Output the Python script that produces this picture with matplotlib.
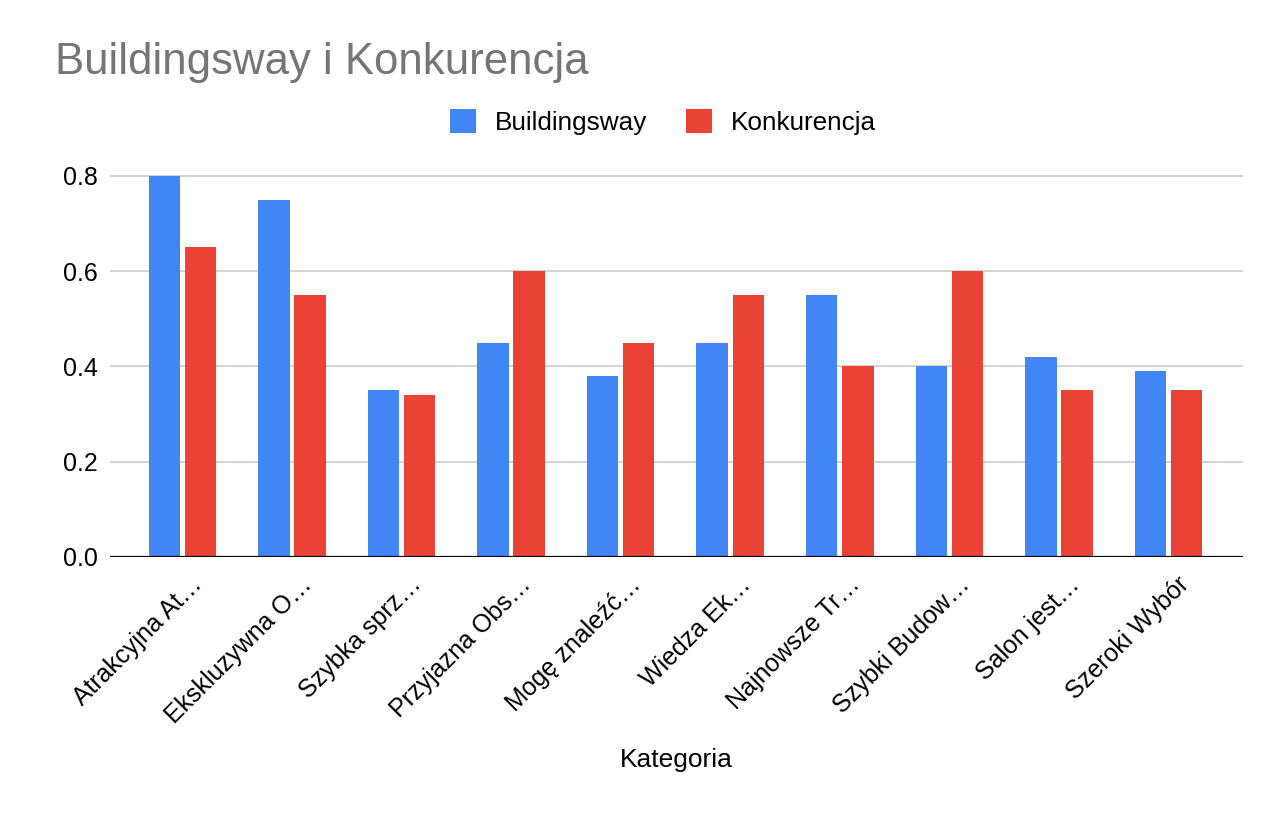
"""
Grouped bar chart: Buildingsway vs Konkurencja per category.
"""

import matplotlib.pyplot as plt
import matplotlib.transforms as mtransforms
import numpy as np

categories = [
    "Atrakcyjna At…",
    "Ekskluzywna O…",
    "Szybka sprz…",
    "Przyjazna Obs…",
    "Mogę znaleźć…",
    "Wiedza Ek…",
    "Najnowsze Tr…",
    "Szybki Budow…",
    "Salon jest…",
    "Szeroki Wybór",
]
buildingsway = [0.80, 0.75, 0.35, 0.45, 0.38, 0.45, 0.55, 0.40, 0.42, 0.39]
konkurencja = [0.65, 0.55, 0.34, 0.60, 0.45, 0.55, 0.40, 0.60, 0.35, 0.35]
y_ticks = [0.0, 0.2, 0.4, 0.6, 0.8]

BLUE = "#4285F4"
RED = "#EA4335"

plt.rcParams["font.family"] = ["Liberation Sans", "DejaVu Sans"]

W, H = 1278, 816
fig = plt.figure(figsize=(W / 100, H / 100), dpi=100)
ax = fig.add_axes([110 / W, (H - 557) / H, 1133 / W, 405 / H])

x = np.arange(len(categories))
bar_w = 0.287
offset = 0.165
ax.bar(x - offset, buildingsway, bar_w, color=BLUE, label="Buildingsway", zorder=3)
ax.bar(x + offset, konkurencja, bar_w, color=RED, label="Konkurencja", zorder=3)

ax.set_xlim(-0.66, 9.68)
ax.set_ylim(0, 0.85)
ax.set_yticks(y_ticks)
ax.set_yticklabels([f"{v:.1f}" for v in y_ticks])
ax.tick_params(axis="y", length=0, pad=9, labelsize=18)
ax.tick_params(axis="x", length=0, pad=11)
ax.grid(axis="y", color="#cccccc", linewidth=1.2, zorder=0)
ax.axhline(0, color="black", linewidth=1.6, zorder=4)
for side in ["top", "right", "left", "bottom"]:
    ax.spines[side].set_visible(False)

ax.set_xticks(x)
ax.set_xticklabels(categories, rotation=45, ha="right", rotation_mode="anchor", fontsize=18)
shift = mtransforms.ScaledTranslation(8 / 100, 0, fig.dpi_scale_trans)
for lbl in ax.get_xticklabels():
    lbl.set_transform(lbl.get_transform() + shift)

fig.text(55 / W, (H - 74) / H, "Buildingsway i Konkurencja", fontsize=31.5,
         color="#757575", va="baseline", ha="left")
fig.text(676 / W, (H - 760) / H, "Kategoria", fontsize=19, ha="center", va="center")

fig.legend(loc="center", bbox_to_anchor=(663 / W, 1 - 122 / H), ncol=2, frameon=False,
           fontsize=18.8, handlelength=1.0, handleheight=1.0, handletextpad=0.7,
           columnspacing=1.5)

fig.savefig("out.png", dpi=100)
